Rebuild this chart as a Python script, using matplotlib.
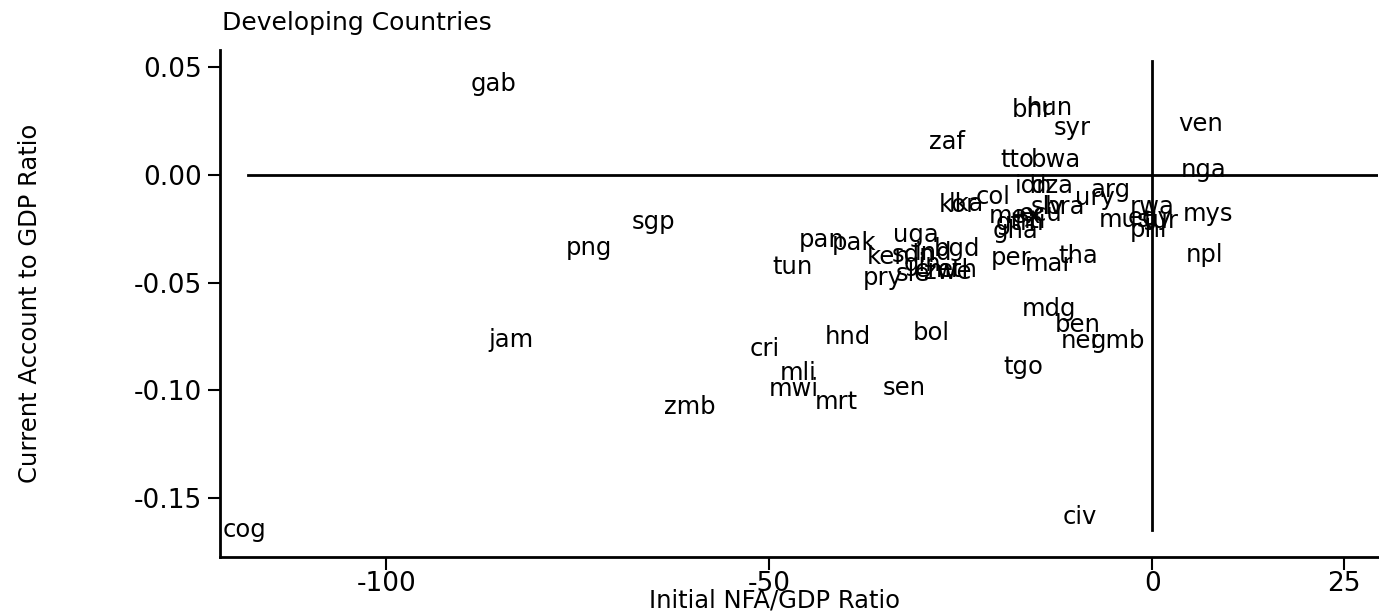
import matplotlib
matplotlib.use("Agg")
import matplotlib.pyplot as plt

plt.rcParams['font.family'] = ['DejaVu Sans']
plt.rcParams['axes.unicode_minus'] = False

# country codes with initial NFA/GDP and current account/GDP
codes = ['gab', 'bhr', 'hun', 'syr', 'zaf', 'ven', 'tto', 'bwa', 'nga',
         'idn', 'dza', 'arg', 'ury', 'col', 'kor', 'lka', 'slv', 'bra',
         'rwa', 'mex', 'ecu', 'gtm', 'hti', 'gha', 'mus', 'egy', 'tur',
         'mys', 'phl', 'npl', 'sgp', 'png', 'pan', 'pak', 'uga', 'tun',
         'ken', 'sdn', 'ind', 'bgd', 'per', 'tha', 'mar', 'gin', 'cmr',
         'zwe', 'eth', 'pry', 'sle', 'mdg', 'ben', 'ner', 'gmb', 'tgo',
         'bol', 'hnd', 'cri', 'jam', 'mli', 'mwi', 'sen', 'mrt', 'zmb',
         'civ', 'cog']
nfa = [-89.0, -18.3, -16.4, -12.9, -29.2, 3.4, -19.8, -15.9, 3.7,
       -17.9, -15.9, -8.1, -10.1, -23.1, -27.9, -26.6, -15.9, -14.0,
       -2.9, -21.4, -17.4, -20.5, -18.0, -20.9, -7.0, -3.2, -1.2,
       4.0, -2.9, 4.3, -67.9, -76.6, -46.2, -41.8, -33.8, -49.6,
       -37.3, -34.0, -31.0, -28.5, -21.1, -12.3, -16.6, -32.5, -31.0,
       -29.8, -28.0, -37.8, -33.5, -17.0, -12.7, -12.0, -8.1, -19.5,
       -31.3, -42.7, -52.5, -86.7, -48.6, -50.1, -35.2, -44.0, -63.7,
       -11.7, -121.4]
ca = [0.0423, 0.0300, 0.0310, 0.0219, 0.0153, 0.0237, 0.0070, 0.0070, 0.0023,
      -0.0051, -0.0051, -0.0070, -0.0107, -0.0102, -0.0140, -0.0135, -0.0149, -0.0149,
      -0.0149, -0.0191, -0.0180, -0.0225, -0.0215, -0.0262, -0.0209, -0.0200, -0.0215,
      -0.0181, -0.0256, -0.0372, -0.0219, -0.0340, -0.0300, -0.0316, -0.0279, -0.0428,
      -0.0381, -0.0372, -0.0362, -0.0345, -0.0386, -0.0377, -0.0414, -0.0415, -0.0440,
      -0.0450, -0.0440, -0.0479, -0.0462, -0.0623, -0.0698, -0.0772, -0.0772, -0.0893,
      -0.0735, -0.0753, -0.0809, -0.0767, -0.0921, -0.0995, -0.0991, -0.1056, -0.1079,
      -0.1590, -0.1650]

xticks = [-100, -50, 0, 25]
yticks = [0.05, 0.00, -0.05, -0.10, -0.15]

fig = plt.figure(figsize=(13.79, 6.13), dpi=100)
ax = fig.add_axes([0.1595, 0.091, 0.84, 0.827])

# labels only, no marker symbols
ax.scatter(nfa, ca, s=0)
for c, x, y in zip(codes, nfa, ca):
    ax.text(x, y, c, ha='left', va='center', fontsize=17.5, color='black')

# reference lines at zero
ax.plot([-118, 29.5], [0, 0], color='black', lw=2)
ax.plot([0, 0], [-0.165, 0.053], color='black', lw=2)

ax.set_xlim(-121.7, 29.5)
ax.set_ylim(-0.1777, 0.058)
ax.set_xticks(xticks)
ax.set_xticklabels([str(t) for t in xticks])
ax.set_yticks(yticks)
ax.set_yticklabels(['%.2f' % t for t in yticks])
ax.tick_params(direction='out', length=9, width=1.5, labelsize=19)
ax.tick_params(axis='x', pad=1)
ax.tick_params(axis='y', pad=4)

for side in ['top', 'right']:
    ax.spines[side].set_visible(False)
for side in ['left', 'bottom']:
    ax.spines[side].set_linewidth(2)

ax.set_xlabel('Initial NFA/GDP Ratio', fontsize=17.5, va='center')
ax.xaxis.set_label_coords(0.479, -0.086)
ax.set_ylabel('Current Account to GDP Ratio', fontsize=17.5, va='center')
ax.yaxis.set_label_coords(-0.164, 0.5)
fig.text(0.161, 0.962, 'Developing Countries', fontsize=18, ha='left', va='center')

plt.savefig('out.png', dpi=100)
